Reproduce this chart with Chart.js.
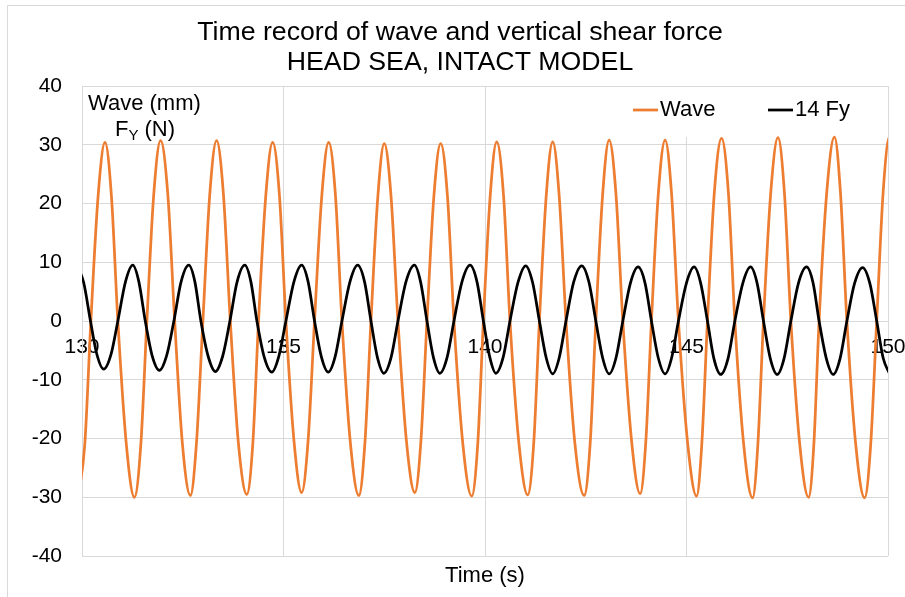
<!DOCTYPE html>
<html>
<head>
<meta charset="utf-8">
<script src="https://cdn.jsdelivr.net/npm/chart.js@4.4.1/dist/chart.umd.min.js"></script>
<style>
  html, body { margin: 0; padding: 0; background: #fff; }
  canvas { display: block; }
</style>
</head>
<body>
<canvas id="myChart" width="905" height="597"></canvas>
<script>
// values (time in s)
let waveTime = [
  129.91, 130.07, 130.22, 130.40, 130.57, 130.73, 130.89, 131.10,
  131.30, 131.46, 131.61, 131.78, 131.95, 132.13, 132.30, 132.49,
  132.69, 132.84, 133.00, 133.17, 133.34, 133.51, 133.68, 133.88,
  134.09, 134.24, 134.38, 134.56, 134.73, 134.90, 135.06, 135.26,
  135.45, 135.61, 135.77, 135.95, 136.12, 136.29, 136.45, 136.66,
  136.87, 137.02, 137.17, 137.34, 137.50, 137.67, 137.84, 138.05,
  138.26, 138.41, 138.56, 138.73, 138.90, 139.07, 139.23, 139.45,
  139.67, 139.82, 139.96, 140.13, 140.29, 140.46, 140.62, 140.84,
  141.06, 141.21, 141.35, 141.52, 141.68, 141.84, 142.01, 142.23,
  142.46, 142.61, 142.75, 142.92, 143.08, 143.25, 143.42, 143.64,
  143.85, 143.99, 144.13, 144.30, 144.47, 144.63, 144.80, 145.03,
  145.25, 145.38, 145.52, 145.69, 145.87, 146.04, 146.20, 146.42,
  146.64, 146.77, 146.91, 147.09, 147.27, 147.43, 147.59, 147.81,
  148.03, 148.16, 148.29, 148.48, 148.67, 148.82, 148.98, 149.20,
  149.42, 149.57, 149.72, 149.88, 150.04, 150.20, 150.37
];
let waveValue = [
  -29.9, -20.9, 0, 21.3, 30.4, 21.3, 0, -21.0,
  -30.0, -21.0, 0, 21.5, 30.7, 21.5, 0, -20.8,
  -29.7, -20.8, 0, 21.5, 30.7, 21.5, 0, -20.7,
  -29.5, -20.7, 0, 21.3, 30.4, 21.3, 0, -20.4,
  -29.2, -20.4, 0, 21.3, 30.4, 21.3, 0, -20.8,
  -29.7, -20.8, 0, 21.1, 30.2, 21.1, 0, -20.4,
  -29.2, -20.4, 0, 21.1, 30.2, 21.1, 0, -20.9,
  -29.8, -20.9, 0, 21.4, 30.5, 21.4, 0, -20.7,
  -29.6, -20.7, 0, 21.4, 30.5, 21.4, 0, -20.8,
  -29.7, -20.8, 0, 21.6, 30.8, 21.6, 0, -20.6,
  -29.4, -20.6, 0, 21.6, 30.8, 21.6, 0, -20.9,
  -29.8, -20.9, 0, 21.8, 31.1, 21.8, 0, -21.1,
  -30.1, -21.1, 0, 21.8, 31.2, 21.8, 0, -21.0,
  -30.0, -21.0, 0, 21.9, 31.3, 21.9, 0, -21.1,
  -30.1, -21.1, 0, 22.0, 31.4, 22.0, 0
];
let fyTime = [
  129.87, 130.04, 130.21, 130.37, 130.54, 130.72, 130.89, 131.08,
  131.26, 131.41, 131.57, 131.74, 131.92, 132.10, 132.28, 132.46,
  132.65, 132.80, 132.95, 133.13, 133.31, 133.49, 133.67, 133.85,
  134.04, 134.19, 134.34, 134.52, 134.71, 134.88, 135.06, 135.26,
  135.45, 135.61, 135.77, 135.94, 136.11, 136.28, 136.45, 136.65,
  136.84, 137.01, 137.17, 137.33, 137.49, 137.67, 137.84, 138.04,
  138.25, 138.40, 138.56, 138.72, 138.88, 139.06, 139.23, 139.43,
  139.63, 139.80, 139.96, 140.12, 140.27, 140.45, 140.62, 140.82,
  141.01, 141.18, 141.35, 141.52, 141.68, 141.84, 142.01, 142.20,
  142.40, 142.58, 142.75, 142.92, 143.08, 143.25, 143.42, 143.61,
  143.80, 143.97, 144.13, 144.30, 144.47, 144.63, 144.80, 145.00,
  145.19, 145.35, 145.52, 145.68, 145.85, 146.03, 146.20, 146.40,
  146.59, 146.75, 146.91, 147.08, 147.25, 147.42, 147.59, 147.78,
  147.98, 148.14, 148.29, 148.47, 148.64, 148.81, 148.98, 149.17,
  149.37, 149.55, 149.72, 149.88, 150.04
];
let fyValue = [
  9.4, 6.6, 0, -5.7, -8.2, -5.7, 0, 6.7,
  9.5, 6.7, 0, -5.9, -8.4, -5.9, 0, 6.7,
  9.5, 6.7, 0, -6.0, -8.6, -6.0, 0, 6.7,
  9.5, 6.7, 0, -6.1, -8.7, -6.1, 0, 6.7,
  9.5, 6.7, 0, -6.1, -8.7, -6.1, 0, 6.7,
  9.5, 6.7, 0, -6.2, -8.9, -6.2, 0, 6.7,
  9.5, 6.7, 0, -6.2, -8.9, -6.2, 0, 6.7,
  9.5, 6.7, 0, -6.2, -8.9, -6.2, 0, 6.6,
  9.4, 6.6, 0, -6.3, -9.0, -6.3, 0, 6.6,
  9.4, 6.6, 0, -6.3, -9.0, -6.3, 0, 6.5,
  9.2, 6.5, 0, -6.3, -9.0, -6.3, 0, 6.5,
  9.2, 6.5, 0, -6.4, -9.1, -6.4, 0, 6.5,
  9.2, 6.5, 0, -6.4, -9.1, -6.4, 0, 6.5,
  9.2, 6.5, 0, -6.4, -9.1, -6.4, 0, 6.4,
  9.1, 6.4, 0, -6.3, -9.0
];
let seriesNames = ['Wave', '14 Fy'];
let seriesColors = ['#ED7D31', '#000000'];
let titleLines = ['Time record of wave and vertical shear force', 'HEAD SEA, INTACT MODEL'];

let fontFamily = '"Liberation Sans", Arial, sans-serif';
let gridColor = '#d9d9d9';

let toPoints = (xs, ys) => xs.map((x, i) => ({ x: x, y: ys[i] }));

// background, outer frame, legend and y-axis caption inside the plot
let decorations = {
  id: 'decorations',
  beforeDraw: (chart) => {
    let ctx = chart.ctx;
    ctx.save();
    ctx.fillStyle = '#fff';
    ctx.fillRect(0, 0, chart.width, chart.height);
    ctx.strokeStyle = gridColor;
    ctx.lineWidth = 1;
    ctx.beginPath();
    ctx.moveTo(7.5, chart.height);
    ctx.lineTo(7.5, 5.5);
    ctx.lineTo(chart.width, 5.5);
    ctx.stroke();
    ctx.restore();
  },
  beforeDatasetsDraw: (chart) => {
    let ctx = chart.ctx;
    let area = chart.chartArea;
    ctx.save();
    ctx.fillStyle = '#fff';
    ctx.fillRect(area.right - 268, area.top + 1, 267, 50);

    ctx.font = '22px ' + fontFamily;
    ctx.textBaseline = 'middle';
    ctx.textAlign = 'left';
    let legendY = area.top + 24;
    let legendX = [area.right - 255, area.right - 120];
    chart.data.datasets.forEach((ds, i) => {
      ctx.strokeStyle = ds.borderColor;
      ctx.lineWidth = 2.75;
      ctx.beginPath();
      ctx.moveTo(legendX[i], legendY);
      ctx.lineTo(legendX[i] + 25, legendY);
      ctx.stroke();
      ctx.fillStyle = '#000';
      ctx.fillText(ds.label, legendX[i] + 27, legendY);
    });

    // y-axis caption
    ctx.fillStyle = '#000';
    ctx.fillText('Wave (mm)', area.left + 6, area.top + 18);
    let fW = ctx.measureText('F').width;
    let nW = ctx.measureText(' (N)').width;
    ctx.font = '15px ' + fontFamily;
    let yW = ctx.measureText('Y').width;
    let startX = area.left + 63 - (fW + yW + nW) / 2;
    let capY = area.top + 44;
    ctx.fillText('Y', startX + fW, capY + 6);
    ctx.font = '22px ' + fontFamily;
    ctx.fillText('F', startX, capY);
    ctx.fillText(' (N)', startX + fW + yW, capY);
    ctx.restore();
  }
};

let ctx = document.getElementById('myChart').getContext('2d');
let myChart = new Chart(ctx, {
  type: 'line',
  data: {
    datasets: [{
      label: seriesNames[0],
      data: toPoints(waveTime, waveValue),
      borderColor: seriesColors[0],
      backgroundColor: seriesColors[0],
      borderWidth: 2.75,
      pointRadius: 0,
      cubicInterpolationMode: 'monotone',
      fill: false,
      order: 2
    }, {
      label: seriesNames[1],
      data: toPoints(fyTime, fyValue),
      borderColor: seriesColors[1],
      backgroundColor: seriesColors[1],
      borderWidth: 2.75,
      pointRadius: 0,
      cubicInterpolationMode: 'monotone',
      fill: false,
      order: 1
    }]
  },
  options: {
    responsive: false,
    devicePixelRatio: 1,
    animation: false,
    layout: {
      padding: { left: 32, right: 17, top: 0, bottom: 0 }
    },
    scales: {
      x: {
        type: 'linear',
        min: 130,
        max: 150,
        position: { y: 0 },
        ticks: {
          stepSize: 5,
          color: '#000',
          padding: 14,
          font: { family: fontFamily, size: 21 }
        },
        grid: { color: gridColor, drawTicks: false },
        border: { display: true, color: gridColor },
        afterFit: (scale) => { scale.paddingLeft = 0; scale.paddingRight = 0; }
      },
      y: {
        min: -40,
        max: 40,
        ticks: {
          stepSize: 10,
          color: '#000',
          padding: 20,
          font: { family: fontFamily, size: 21 }
        },
        grid: { color: gridColor, drawTicks: false },
        border: { display: true, color: gridColor },
        afterFit: (scale) => { scale.width = 50; }
      }
    },
    plugins: {
      legend: { display: false },
      tooltip: { enabled: false },
      title: {
        display: true,
        text: titleLines,
        color: '#000',
        font: { family: fontFamily, size: 26.7, weight: 'normal', lineHeight: 30 / 26.7 },
        padding: { top: 18, bottom: 8 }
      },
      subtitle: {
        display: true,
        fullSize: false,
        position: 'bottom',
        text: 'Time (s)',
        color: '#000',
        font: { family: fontFamily, size: 22, weight: 'normal', lineHeight: 1.2 },
        padding: { top: 7, bottom: 7.6 }
      }
    }
  },
  plugins: [decorations]
});
</script>
</body>
</html>
